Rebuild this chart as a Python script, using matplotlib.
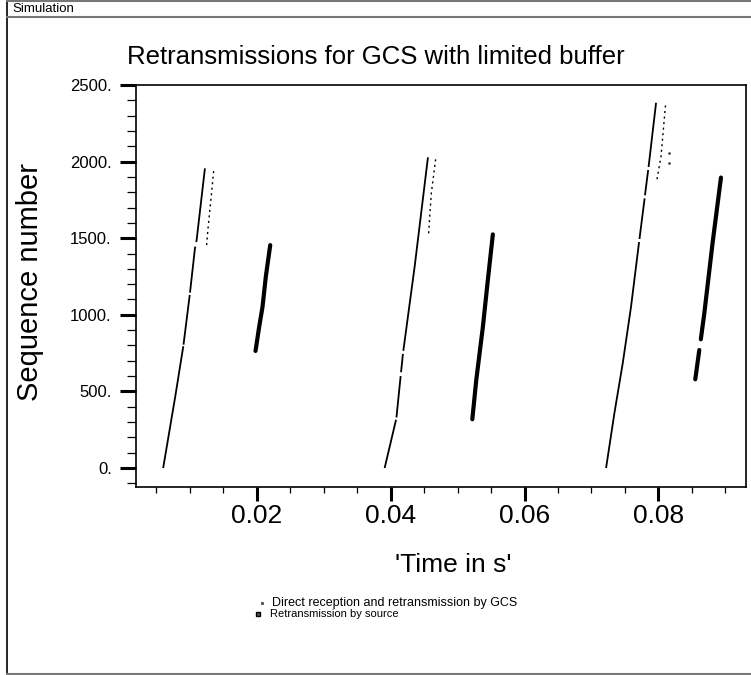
import numpy as np
import matplotlib.pyplot as plt
from matplotlib.lines import Line2D
from matplotlib.ticker import MultipleLocator, FuncFormatter

plt.rcParams['font.family'] = ['Liberation Sans', 'DejaVu Sans']

nan = np.nan

# Direct reception and retransmission by GCS: main ramps (nan = gap)
gcs_direct_t = [0.0060, 0.0078, 0.00901, nan, 0.00904, 0.00997, nan, 0.01001, 0.01075, 0.0108, nan,
                0.01094, 0.0110, 0.01224, nan,
                0.0391, 0.0408, nan, 0.04086, 0.04149, nan, 0.04155, 0.04183, nan,
                0.04189, 0.04358, 0.04557, nan,
                0.07219, 0.07343, 0.07468, 0.07592, 0.07712, nan, 0.07718, 0.07795, nan,
                0.07800, 0.07848, nan, 0.07854, 0.07855, 0.07966]
gcs_direct_seq = [0, 465, 795, nan, 805, 1130, nan, 1145, 1434, 1445, nan,
                  1475, 1488, 1956, nan,
                  0, 315, nan, 330, 600, nan, 625, 745, nan,
                  765, 1314, 2028, nan,
                  0, 357, 684, 1053, 1475, nan, 1495, 1760, nan,
                  1780, 1945, nan, 1965, 1969, 2384]

# GCS retransmissions (sparse dots next to the ramps)
gcs_retx_t = [0.01249, 0.01273, 0.01323, 0.01358, nan,
              0.04567, 0.04607, 0.04672, nan,
              0.0798, 0.0804, 0.0811]
gcs_retx_seq = [1455, 1576, 1793, 1956, nan,
                1532, 1793, 2015, nan,
                1885, 2034, 2384]
gcs_stray_t = [0.08154, 0.08164]
gcs_stray_seq = [1989, 2054]

# Retransmission by source
src_retx_t = [0.0198, 0.02035, 0.02085, 0.02134, 0.0220, nan,
              0.0522, 0.05279, 0.05378, 0.05452, 0.05527, nan,
              0.08552, 0.08612, nan, 0.08635, 0.08687, 0.0881, 0.08936]
src_retx_seq = [764, 922, 1053, 1249, 1455, nan,
                318, 574, 922, 1227, 1525, nan,
                579, 770, nan, 840, 1010, 1467, 1896]

fig = plt.figure(figsize=(7.51, 6.75), dpi=100)

# outer frame and header bar
fig.add_artist(Line2D([7/751, 7/751], [0, 1], color='black', lw=1.2))
fig.add_artist(Line2D([7/751, 1], [1 - 1/675, 1 - 1/675], color='#777777', lw=1.5))
fig.add_artist(Line2D([7/751, 1], [1 - 17/675, 1 - 17/675], color='#777777', lw=1.5))
fig.add_artist(Line2D([7/751, 1], [1/675, 1/675], color='#777777', lw=1.5))
fig.text(12/751, 1 - 9/675, "Simulation", fontsize=9.5, va='center', ha='left')

ax = fig.add_axes([136/751, 1 - 487/675, 610/751, 402/675])
ax.plot(gcs_direct_t, gcs_direct_seq, color='black', lw=1.3, solid_capstyle='butt')
ax.plot(gcs_retx_t, gcs_retx_seq, color='black', lw=1.0, ls=(0, (1.5, 2.5)))
ax.plot(gcs_stray_t, gcs_stray_seq, ls='none', marker='s', ms=0.8, color='#333333')
ax.plot(src_retx_t, src_retx_seq, color='black', lw=3.0, solid_capstyle='round')

ax.set_xlim(0.00194, 0.0931)
ax.set_ylim(-124, 2500)
ax.xaxis.set_major_locator(MultipleLocator(0.02))
ax.xaxis.set_minor_locator(MultipleLocator(0.005))
ax.yaxis.set_major_locator(MultipleLocator(500))
ax.yaxis.set_minor_locator(MultipleLocator(100))
ax.yaxis.set_major_formatter(FuncFormatter(lambda v, p: f"{int(round(v))}."))
ax.xaxis.set_major_formatter(FuncFormatter(lambda v, p: f"{v:.2f}"))

ax.tick_params(axis='x', which='major', direction='out', length=10, width=2.2, labelsize=19, pad=2)
ax.tick_params(axis='x', which='minor', direction='out', length=4.3, width=0.9)
ax.tick_params(axis='y', which='major', direction='out', length=11.5, width=2.2, labelsize=12, pad=6)
ax.tick_params(axis='y', which='minor', direction='out', length=6.5, width=0.9)
for s in ax.spines.values():
    s.set_linewidth(1.2)

fig.text(0.5, 1 - 57/675, "Retransmissions for GCS with limited buffer", fontsize=18.5,
         ha='center', va='center')
fig.text(30/751, 1 - 282/675, "Sequence number", fontsize=21, rotation=90,
         ha='center', va='center')
fig.text(453/751, 1 - 565/675, "'Time in s'", fontsize=19, ha='center', va='center')

# legend
fig.add_artist(Line2D([262/751], [1 - 603/675], marker='s', ms=1.2, color='#555555', ls='none'))
fig.text(272/751, 1 - 603/675, "Direct reception and retransmission by GCS", fontsize=9,
         ha='left', va='center')
fig.add_artist(Line2D([258/751], [1 - 614/675], marker='s', ms=3.5, mfc='#555555',
                      mec='black', mew=1.0, color='black', ls='none'))
fig.text(270/751, 1 - 614/675, "Retransmission by source", fontsize=8,
         ha='left', va='center')

fig.savefig("out.png", dpi=100)
